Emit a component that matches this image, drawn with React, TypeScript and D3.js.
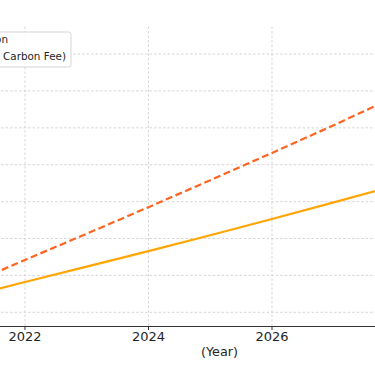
import React from "react";
import * as d3 from "d3";

// values (y in chart units, grid every 10)
const years = [2021, 2022, 2023, 2024, 2025, 2026, 2027, 2028];
const baseline = [24.0, 28.2, 32.4, 36.6, 40.9, 45.3, 49.8, 54.4];
const withFee = [27.0, 34.2, 41.3, 48.5, 55.8, 63.2, 70.7, 78.5];
const yTicks = [20, 30, 40, 50, 60, 70, 80, 90];
const xTicks = [2020, 2022, 2024, 2026, 2028, 2030];
const legendLabels = ["Baseline Projection", "Projection (with Carbon Fee)"];

const W = 375;
const H = 366;
const font = "DejaVu Sans, sans-serif";
const textColor = "#262626";

const App = () => {
  // plot area runs past the window on both sides
  const x = d3.scaleLinear().domain([2019.5, 2030.8]).range([-129.4, 568.4]);
  const y = d3.scaleLinear().domain([16.29, 97.6]).range([326, 26]);
  const [top, bottom] = y.range().slice().reverse();

  const line = d3
    .line<number>()
    .x((_, i) => x(years[i]))
    .y((d) => y(d));

  const xMid = (x.range()[0] + x.range()[1]) / 2;
  // only the ticks that land inside the window get a label
  const shownTicks = xTicks.filter((t) => x(t) > 0 && x(t) < W - 20);

  return (
    <svg
      width={W}
      height={H}
      style={{ position: "absolute", left: 0, top: 0, background: "#fff" }}
      fontFamily={font}
    >
      {/* grid */}
      <g stroke="#cccccc" strokeWidth={0.8} strokeDasharray="2.5,2">
        {yTicks.map((t) => (
          <line key={"h" + t} x1={x.range()[0]} x2={x.range()[1]} y1={y(t)} y2={y(t)} />
        ))}
        {xTicks.map((t) => (
          <line key={"v" + t} x1={x(t)} x2={x(t)} y1={bottom} y2={top} />
        ))}
      </g>

      {/* series */}
      <path d={line(baseline) || ""} fill="none" stroke="#ffa500" strokeWidth={2.2} />
      <path
        d={line(withFee) || ""}
        fill="none"
        stroke="#ff6320"
        strokeWidth={2.2}
        strokeDasharray="7,3.5"
      />

      {/* x axis */}
      <line x1={x.range()[0]} x2={x.range()[1]} y1={326.5} y2={326.5} stroke="#333" strokeWidth={1.1} />
      {shownTicks.map((t) => (
        <g key={"t" + t} transform={`translate(${x(t)},326)`}>
          <line y1={0} y2={4} stroke="#333" strokeWidth={1} />
          <text y={15} textAnchor="middle" fontSize={13} fill={textColor}>
            {t}
          </text>
        </g>
      ))}
      <text x={xMid} y={356} textAnchor="middle" fontSize={12.8} fill={textColor}>
        (Year)
      </text>

      {/* legend (mostly outside the window) */}
      <rect
        x={-120}
        y={32}
        width={191}
        height={35}
        rx={2.5}
        fill="#fff"
        fillOpacity={0.85}
        stroke="#d0d0d0"
        strokeWidth={0.9}
      />
      <text x={8} y={42.5} textAnchor="end" fontSize={10.4} fill={textColor}>
        {legendLabels[0]}
      </text>
      <text x={66} y={59.5} textAnchor="end" fontSize={10.4} fill={textColor}>
        {legendLabels[1]}
      </text>
    </svg>
  );
};

export default App;
